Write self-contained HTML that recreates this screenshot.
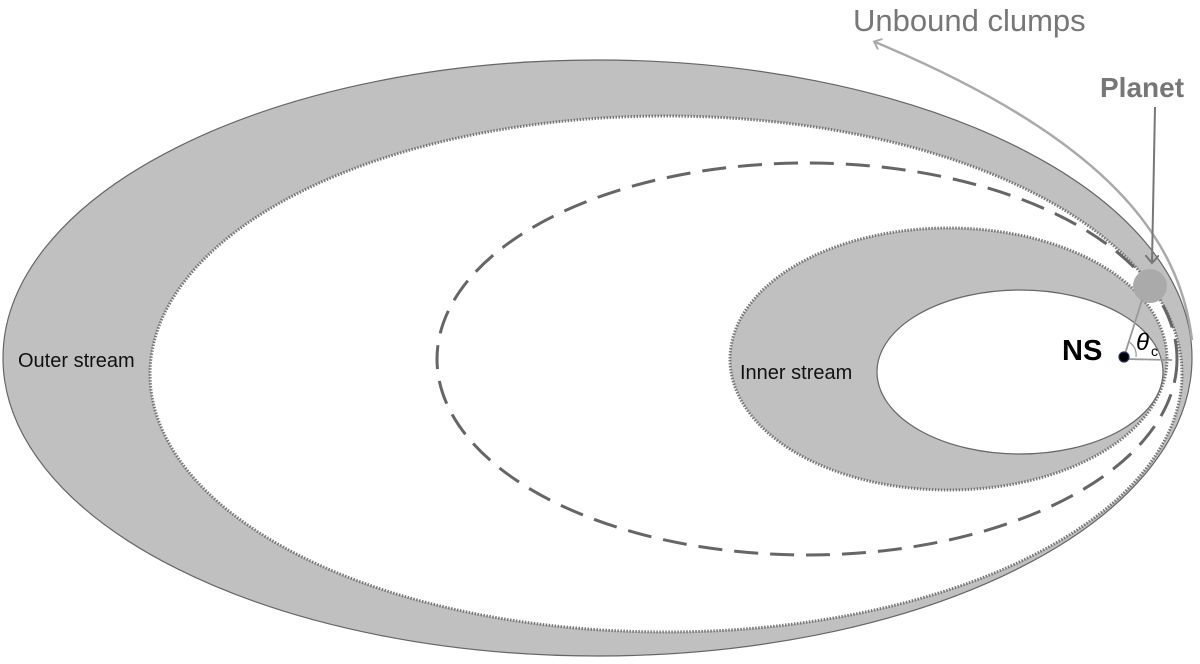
<!DOCTYPE html>
<html><head><style>html,body{margin:0;padding:0;background:#fff;}svg{display:block}</style></head>
<body>
<svg width="1200" height="664" viewBox="0 0 1200 664" xmlns="http://www.w3.org/2000/svg">
<defs><marker id="ah" markerWidth="12" markerHeight="12" refX="6" refY="6" orient="auto" markerUnits="userSpaceOnUse"><path d="M0,0 L7,6 L0,12" fill="none" stroke="#aaa" stroke-width="2"/></marker>
<marker id="ah2" markerWidth="14" markerHeight="14" refX="7" refY="7" orient="auto" markerUnits="userSpaceOnUse"><path d="M0,0 L8,7 L0,14" fill="none" stroke="#777" stroke-width="2"/></marker></defs>
<ellipse cx="597.5" cy="358" rx="594.5" ry="298" fill="#c0c0c0" stroke="#666" stroke-width="1.2"/>
<ellipse cx="666" cy="374" rx="516" ry="258" fill="#fff" stroke="#777" stroke-width="3" stroke-dasharray="1.5 1.5"/>
<ellipse cx="807" cy="359" rx="370" ry="196" fill="none" stroke="#666" stroke-width="3" stroke-dasharray="24 12"/>
<ellipse cx="948.5" cy="359" rx="218.5" ry="131" fill="#c0c0c0" stroke="#777" stroke-width="3" stroke-dasharray="1.5 1.5"/>
<ellipse cx="1020" cy="372" rx="143" ry="82" fill="#fff" stroke="#666" stroke-width="1.2"/>
<path d="M1192,340 C1180,240 1110,140 875,42" fill="none" stroke="#aaa" stroke-width="2.5" marker-end="url(#ah)"/>
<line x1="1155" y1="107" x2="1152" y2="262" stroke="#777" stroke-width="2" marker-end="url(#ah2)"/>
<circle cx="1150" cy="286" r="17" fill="#aaa"/>
<line x1="1124" y1="357" x2="1142" y2="300" stroke="#999" stroke-width="1.8"/>
<line x1="1124" y1="359" x2="1172" y2="360" stroke="#999" stroke-width="1.8"/>
<path d="M1129,342 A15,15 0 0 1 1136,357" fill="none" stroke="#999" stroke-width="1.2"/>
<circle cx="1124" cy="357" r="5" fill="#000" stroke="#236" stroke-width="1.2"/>
<g font-family="Liberation Sans, sans-serif">
<text x="853" y="31" font-size="31" fill="#777">Unbound clumps</text>
<text x="1100" y="97" font-size="28" font-weight="bold" fill="#777">Planet</text>
<text x="1062" y="360" font-size="29" font-weight="bold" fill="#000">NS</text>
<text x="1136" y="350" font-size="24" font-style="italic" fill="#000">θ</text>
<text x="1151" y="356" font-size="14" fill="#000">c</text>
<text x="18" y="367" font-size="20" fill="#111">Outer stream</text>
<text x="740" y="379" font-size="20" fill="#111">Inner stream</text>
</g>
</svg>
</body></html>
